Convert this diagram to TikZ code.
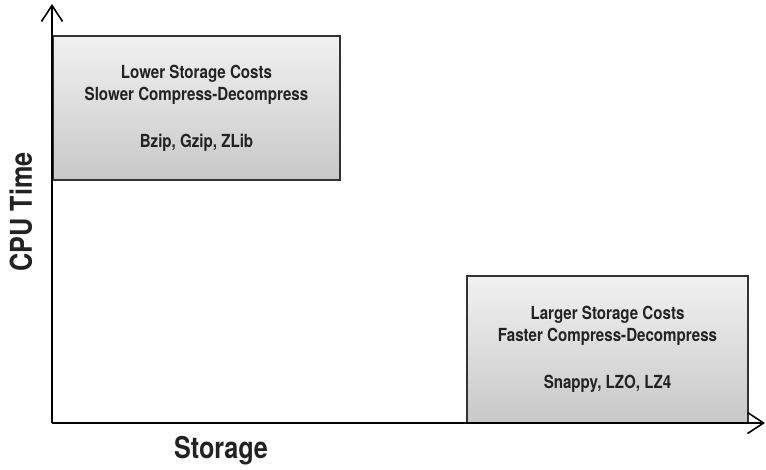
\documentclass[tikz,border=0pt]{standalone}
\usepackage{fontspec}
\setmainfont{TeX Gyre Heros}[FakeStretch=0.84]
\usetikzlibrary{arrows.meta}
\definecolor{ink}{HTML}{222222}
\definecolor{edge}{HTML}{333333}
\definecolor{boxtop}{HTML}{F1F1F1}
\definecolor{boxbottom}{HTML}{C8C8C8}
\tikzset{
  infobox/.style={draw=edge, line width=1.6pt, top color=boxtop, bottom color=boxbottom,
    align=center, text=ink, font=\bfseries\fontsize{18}{22}\selectfont, inner sep=0pt},
  axisline/.style={line width=2pt, draw=black, -{Straight Barb[length=16pt,width=21pt,line width=1.6pt]}},
  axislabel/.style={text=ink, font=\bfseries\fontsize{30}{34}\selectfont}
}
\begin{document}
\begin{tikzpicture}[x=1pt,y=-1pt]
  \useasboundingbox (0,0) rectangle (766,470);
  % origin and axis ends
  \coordinate (origin) at (52,423);
  \coordinate (ytip) at (52,4);
  \coordinate (xtip) at (765,423);
  % the two trade-off boxes
  \node[infobox, minimum width=287pt, minimum height=144pt] (slow) at (196.5,108)
    {Lower Storage Costs\\Slower Compress-Decompress\\[25pt]Bzip, Gzip, ZLib};
  \node[infobox, minimum width=281pt, minimum height=147pt] (fast) at (607.5,349.5)
    {Larger Storage Costs\\Faster Compress-Decompress\\[25pt]Snappy, LZO, LZ4};
  % axes
  \draw[axisline] (origin) -- (ytip);
  \draw[axisline] (origin) -- (xtip);
  % axis labels
  \node[axislabel, rotate=90] (ylabel) at (21,212) {CPU Time};
  \node[axislabel] (xlabel) at (221,451) {Storage};
\end{tikzpicture}
\end{document}
